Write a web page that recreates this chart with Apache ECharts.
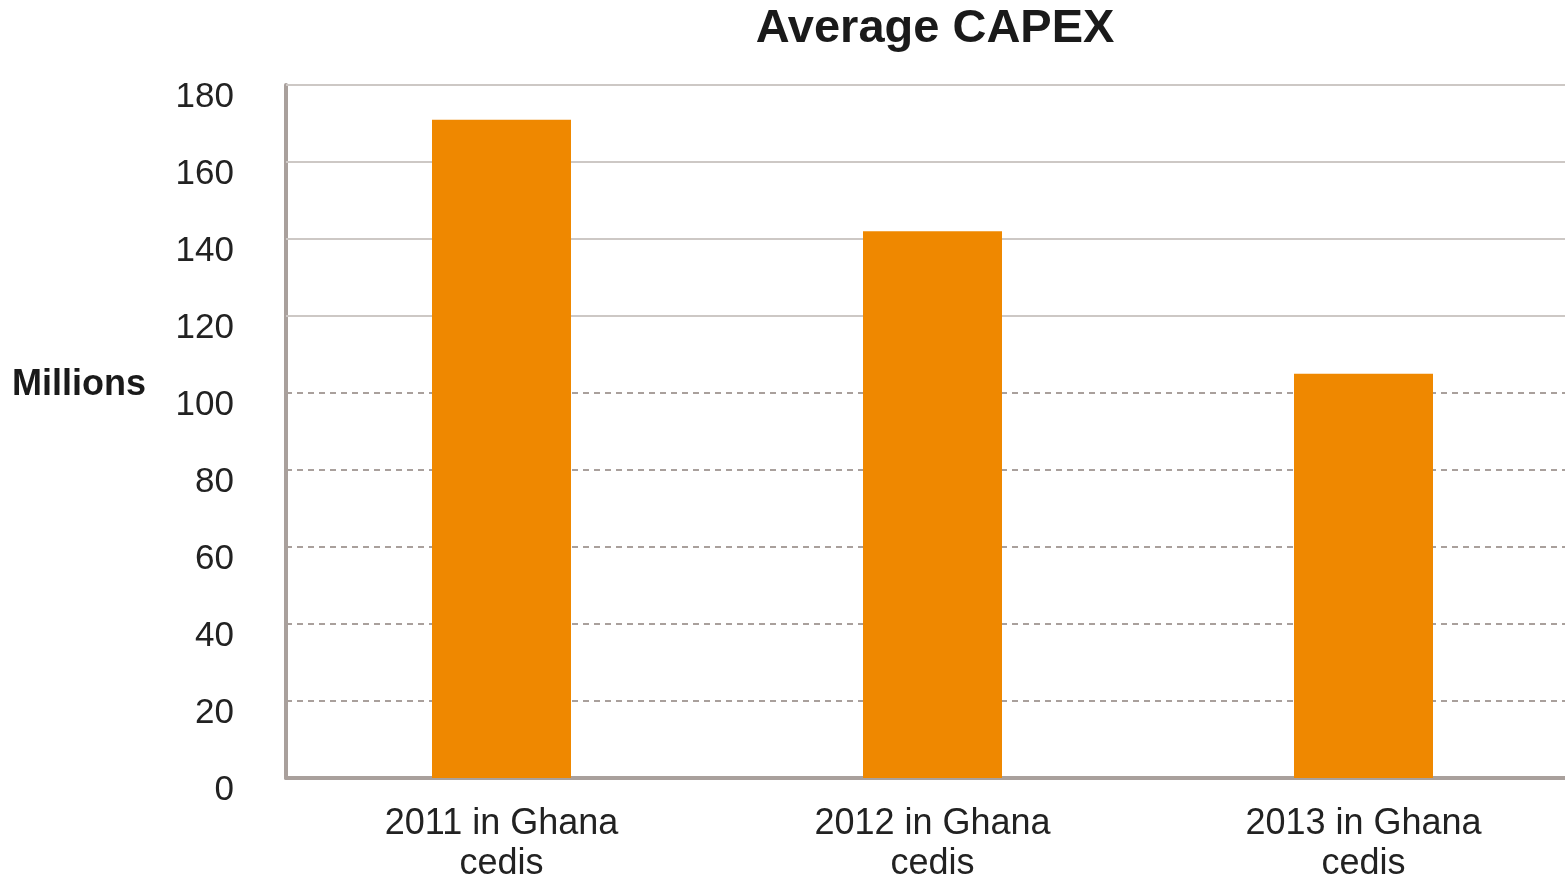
<!DOCTYPE html>
<html>
<head>
<meta charset="utf-8">
<script src="https://cdn.jsdelivr.net/npm/echarts@6/dist/echarts.min.js"></script>
<style>html,body{margin:0;padding:0;background:#fff}#c{width:1565px;height:877px}</style>
</head>
<body>
<div id="c"></div>
<script>
const categories = ['2011 in Ghana\ncedis', '2012 in Ghana\ncedis', '2013 in Ghana\ncedis'];
const values = [171, 142, 105];
const solidGrid = [120, 140, 160, 180];
const dottedGrid = [20, 40, 60, 80, 100];

const chart = echarts.init(document.getElementById('c'));
const font = 'Liberation Sans, Arial, sans-serif';
chart.setOption({
  animation: false,
  title: {
    text: 'Average CAPEX', left: 930, textAlign: 'center', top: 1,
    textStyle: { fontFamily: font, fontSize: 47, fontWeight: 'bold', color: '#1a1a1a' }
  },
  graphic: [{
    type: 'text', left: 12, top: 367,
    style: { text: 'Millions', fontFamily: font, fontSize: 36, fontWeight: 'bold', fill: '#1a1a1a' }
  }],
  grid: { left: 286, width: 1293, top: 85, bottom: 99, outerBoundsMode: 'none', containLabel: false },
  xAxis: {
    type: 'category', data: categories,
    axisLine: { lineStyle: { color: '#a9a09c', width: 4 } },
    axisTick: { show: false },
    axisLabel: { fontFamily: font, fontSize: 36, color: '#222', lineHeight: 40, margin: 26 }
  },
  yAxis: {
    type: 'value', min: 0, max: 180, interval: 20,
    axisLine: { show: true, lineStyle: { color: '#a9a09c', width: 4 } },
    axisTick: { show: false },
    splitLine: { show: false },
    axisLabel: { fontFamily: font, fontSize: 35, color: '#222', margin: 52, verticalAlign: 'top', lineHeight: 25 }
  },
  series: [{
    type: 'bar', data: values, barWidth: 139, z: 3,
    itemStyle: { color: '#ef8800' },
    markLine: {
      silent: true, symbol: 'none', z: 1, label: { show: false },
      data: solidGrid.map(v => ({ yAxis: v, lineStyle: { type: 'solid', color: '#cdc8c5', width: 2 } }))
        .concat(dottedGrid.map(v => ({ yAxis: v, lineStyle: { type: [6, 5], color: '#a9a09c', width: 2 } })))
    }
  }]
});
</script>
</body>
</html>
